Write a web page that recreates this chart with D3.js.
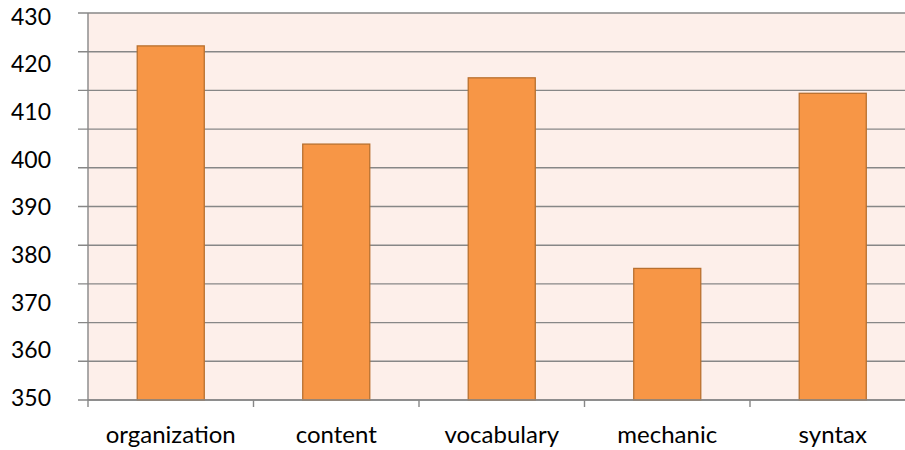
<!DOCTYPE html>
<html>
<head>
<meta charset="utf-8">
<script src="https://cdn.jsdelivr.net/npm/d3@7"></script>
<style>
  body { margin: 0; background: #fff; }
  svg { display: block; }
</style>
</head>
<body>
<div id="chart"></div>
<script>
// dati
var categories = ["organization", "content", "vocabulary", "mechanic", "syntax"];
var scores = [423.2, 402.9, 416.6, 377.2, 413.4];
var yLabels = [350, 360, 370, 380, 390, 400, 410, 420, 430];
var yGrid = d3.range(350, 430.1, 8);

var width = 905;
var height = 450;
// attenzione: "top" è riservato da window, quindi plotTop
var plotLeft = 88, plotTop = 13, plotBottom = 400;
var band = 165.5;

var svg = d3.select("#chart")
            .append("svg")
            .attr("width", width)
            .attr("height", height)
            .style("font-family", "Lato, 'Open Sans', sans-serif");

var x = d3.scaleBand()
          .domain(categories)
          .range([plotLeft, plotLeft + band * categories.length])
          .padding(0);

var y = d3.scaleLinear()
          .domain([350, 430])
          .range([plotBottom, plotTop]);

// le etichette dell'asse y non coincidono con la griglia
var yText = d3.scaleLinear()
              .domain([350, 430])
              .range([397.5, 16.5]);

// sfondo area del grafico
svg.append("rect")
   .attr("x", plotLeft)
   .attr("y", plotTop)
   .attr("width", width - plotLeft)
   .attr("height", plotBottom - plotTop)
   .attr("fill", "#fdefea");

// griglia orizzontale + tacche a sinistra
svg.append("g")
   .selectAll("line")
   .data(yGrid)
   .enter()
   .append("line")
   .attr("x1", plotLeft - 10)
   .attr("x2", width)
   .attr("y1", function(d) { return y(d); })
   .attr("y2", function(d) { return y(d); })
   .attr("stroke", "#878787")
   .attr("stroke-width", 1.4);

// barre
var barW = x.bandwidth() * 0.405;
svg.append("g")
   .selectAll("rect")
   .data(scores)
   .enter()
   .append("rect")
   .attr("x", function(d, i) { return x(categories[i]) + (x.bandwidth() - barW) / 2; })
   .attr("y", function(d) { return y(d); })
   .attr("width", barW)
   .attr("height", function(d) { return plotBottom - y(d); })
   .attr("fill", "#f79646")
   .attr("stroke", "#b8702f")
   .attr("stroke-width", 1.3);

// asse y
svg.append("line")
   .attr("x1", plotLeft).attr("x2", plotLeft)
   .attr("y1", plotTop).attr("y2", plotBottom + 7)
   .attr("stroke", "#878787")
   .attr("stroke-width", 1.4);

// asse x
svg.append("line")
   .attr("x1", plotLeft).attr("x2", width)
   .attr("y1", plotBottom).attr("y2", plotBottom)
   .attr("stroke", "#878787")
   .attr("stroke-width", 1.4);

svg.append("g")
   .selectAll("line")
   .data(categories)
   .enter()
   .append("line")
   .attr("x1", function(d) { return x(d) + x.bandwidth(); })
   .attr("x2", function(d) { return x(d) + x.bandwidth(); })
   .attr("y1", plotBottom)
   .attr("y2", plotBottom + 7)
   .attr("stroke", "#878787")
   .attr("stroke-width", 1.4);

// etichette asse y
svg.append("g")
   .selectAll("text")
   .data(yLabels)
   .enter()
   .append("text")
   .attr("x", 51)
   .attr("y", function(d) { return yText(d); })
   .attr("dy", "0.36em")
   .attr("text-anchor", "end")
   .attr("font-size", "23px")
   .attr("fill", "#000")
   .text(function(d) { return d; });

// etichette categorie
svg.append("g")
   .selectAll("text")
   .data(categories)
   .enter()
   .append("text")
   .attr("x", function(d) { return x(d) + x.bandwidth() / 2; })
   .attr("y", 443)
   .attr("text-anchor", "middle")
   .attr("font-size", "24px")
   .attr("fill", "#000")
   .text(function(d) { return d; });
</script>
</body>
</html>
